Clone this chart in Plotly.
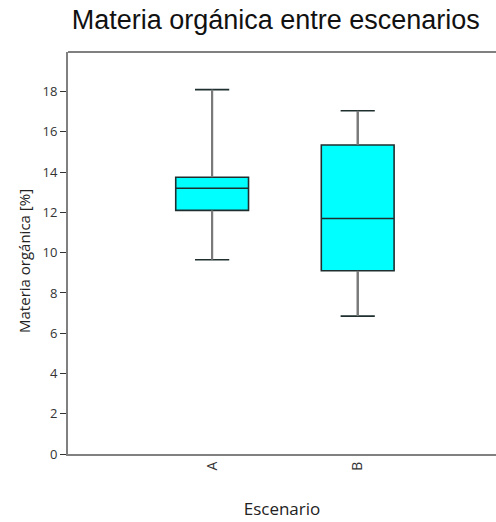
import plotly.graph_objects as go

# Summary statistics of organic matter (%) per scenario
escenarios = ["A", "B"]
minimo = [9.65, 6.85]
q1 = [12.1, 9.1]
mediana = [13.2, 11.7]
q3 = [13.75, 15.35]
maximo = [18.1, 17.05]

fig = go.Figure()

fig.add_trace(go.Box(
    x=escenarios,
    q1=q1,
    median=mediana,
    q3=q3,
    lowerfence=minimo,
    upperfence=maximo,
    fillcolor="#00FFFF",
    line=dict(color="#1f2f2f", width=1.6),
    whiskerwidth=0.47,
    width=0.5,
    boxpoints=False,
    hoverinfo="skip",
    showlegend=False,
))

# Whisker stems drawn in grey on top of the box trace
for i, cat in enumerate(escenarios):
    for lo, hi in ((minimo[i], q1[i]), (q3[i], maximo[i])):
        fig.add_trace(go.Scatter(
            x=[cat, cat], y=[lo, hi], mode="lines",
            line=dict(color="#7a7a7a", width=2.2),
            hoverinfo="skip", showlegend=False,
        ))

label_font = "Open Sans, DejaVu Sans"

fig.update_layout(
    width=496,
    height=522,
    margin=dict(l=68, r=0, t=52, b=68),
    paper_bgcolor="white",
    plot_bgcolor="white",
    title=dict(
        text="Materia orgánica entre escenarios",
        x=0.556, xanchor="center", y=0.962, yanchor="middle",
        font=dict(family="Liberation Sans, Arial", size=27, color="#111111"),
    ),
    xaxis=dict(
        type="category",
        range=[-0.99, 1.95],
        showgrid=False,
        zeroline=False,
        showline=True,
        linecolor="#808080",
        linewidth=2,
        ticks="",
        tickangle=-90,
        tickfont=dict(family=label_font, size=14, color="#333333"),
        title=dict(text="Escenario",
                   font=dict(family=label_font, size=17, color="#222222"),
                   standoff=33),
    ),
    yaxis=dict(
        range=[0, 19.97],
        tickvals=[0, 2, 4, 6, 8, 10, 12, 14, 16, 18],
        showgrid=False,
        zeroline=False,
        showline=True,
        linecolor="#808080",
        linewidth=2,
        ticks="outside",
        ticklen=6,
        tickwidth=1.2,
        tickcolor="#333333",
        tickfont=dict(family=label_font, size=13, color="#333333"),
    ),
    annotations=[dict(
        text="Materia orgánica [%]",
        xref="paper", yref="paper",
        x=-0.103, y=0.48, xanchor="center", yanchor="middle",
        textangle=-90, showarrow=False,
        font=dict(family=label_font, size=15, color="#222222"),
    )],
)

# Top border of the plotting area
fig.add_shape(type="line", xref="paper", yref="paper", x0=0, x1=1, y0=1, y1=1,
              line=dict(color="#808080", width=2))

fig.write_html("out.html")
